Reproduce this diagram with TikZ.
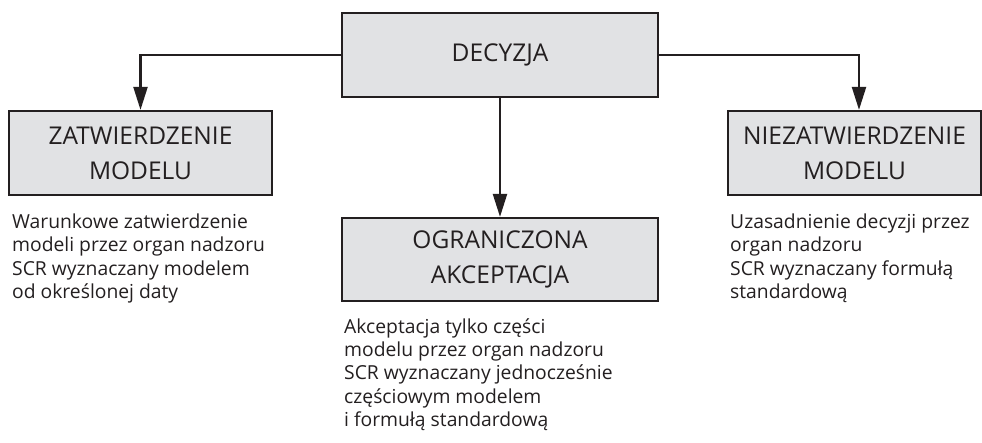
\documentclass[tikz,border=0pt]{standalone}
\usepackage{fontspec}
\setmainfont{Open Sans}
\usetikzlibrary{arrows.meta}
\definecolor{ink}{HTML}{231F20}
\definecolor{boxfill}{HTML}{E1E2E4}
\tikzset{
  box/.style={draw=ink, fill=boxfill, line width=2.2pt, rectangle, inner sep=0pt,
    minimum height=84pt, align=center, text=ink, font=\fontsize{24.5}{35}\selectfont},
  note/.style={anchor=base west, inner sep=0pt, align=left, text=ink,
    font=\fontsize{19.3}{23.4}\selectfont},
  conn/.style={draw=ink, line width=2.2pt, -{Triangle[length=23pt,width=14pt]}}
}
\begin{document}
\begin{tikzpicture}[x=1pt,y=-1pt]
\useasboundingbox (0,0) rectangle (982,443);
\node[box, minimum width=316pt] (dec) at (500,55) {DECYZJA};
\node[box, minimum width=263pt] (zat) at (140.5,153) {ZATWIERDZENIE\\MODELU};
\node[box, minimum width=253pt] (nie) at (854.5,153) {NIEZATWIERDZENIE\\MODELU};
\node[box, minimum width=316pt, minimum height=83pt] (ogr) at (500,259.5) {OGRANICZONA\\AKCEPTACJA};
\draw[conn] (dec.west) -| (zat.north);
\draw[conn] (dec.east) -| ([xshift=4.5pt]nie.north);
\draw[conn] (dec.south) -- (ogr.north);
\node[note] (t1) at (12,298.5) {Warunkowe zatwierdzenie\\modeli przez organ nadzoru\\SCR wyznaczany modelem\\od określonej daty};
\node[note] (t2) at (344,426.6) {Akceptacja tylko części\\modelu przez organ nadzoru\\SCR wyznaczany jednocześnie\\częściowym modelem\\i formułą standardową};
\node[note] (t3) at (730,298.5) {Uzasadnienie decyzji przez\\organ nadzoru\\SCR wyznaczany formułą\\standardową};
\end{tikzpicture}
\end{document}
